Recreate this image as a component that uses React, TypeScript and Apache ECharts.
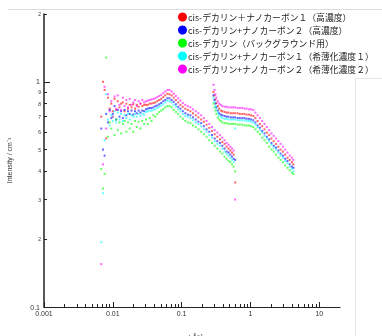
import React, { useEffect, useRef } from "react";
import * as echarts from "echarts";

// Scattering vector q (Å^-1), SAXS range and WAXS range
const qSaxs = [0.0068, 0.0072, 0.0076, 0.008, 0.0085, 0.009, 0.0095, 0.01, 0.0106, 0.0112, 0.0118, 0.0125, 0.0132, 0.014, 0.0148, 0.0157, 0.0166, 0.0176, 0.0187, 0.0198, 0.021, 0.0223, 0.0237, 0.0252, 0.0268, 0.0285, 0.0303, 0.0322, 0.0343, 0.0365, 0.039, 0.0415, 0.0443, 0.0473, 0.0505, 0.054, 0.0578, 0.062, 0.0665, 0.0714, 0.0767, 0.0825, 0.089, 0.096, 0.104, 0.113, 0.123, 0.134, 0.146, 0.16, 0.175, 0.192, 0.21, 0.23, 0.252, 0.276, 0.302, 0.33, 0.36, 0.39, 0.42, 0.45, 0.48, 0.51, 0.54, 0.57, 0.6];
const qWaxs = [0.29, 0.3, 0.31, 0.32, 0.335, 0.35, 0.37, 0.39, 0.42, 0.45, 0.48, 0.52, 0.56, 0.6, 0.65, 0.7, 0.76, 0.82, 0.88, 0.95, 1.02, 1.1, 1.18, 1.27, 1.37, 1.48, 1.6, 1.73, 1.87, 2.02, 2.18, 2.35, 2.54, 2.74, 2.96, 3.2, 3.45, 3.72, 4.0, 4.2];

// Intensities (cm^-1)
const redSaxs = [0.70, 1.0, 0.92, 0.56, 0.85, 0.76, 0.80, 0.74, 0.84, 0.75, 0.82, 0.77, 0.80, 0.81, 0.74, 0.80, 0.76, 0.79, 0.77, 0.795, 0.76, 0.79, 0.775, 0.80, 0.78, 0.79,
  0.79, 0.79, 0.80, 0.80, 0.805, 0.81, 0.82, 0.83, 0.84, 0.855, 0.87, 0.885, 0.88, 0.87, 0.85, 0.83, 0.81, 0.79, 0.775, 0.76, 0.75, 0.74, 0.725, 0.71, 0.695, 0.68, 0.665, 0.645, 0.625, 0.605, 0.585, 0.57, 0.555, 0.54, 0.53, 0.515, 0.505, 0.495, 0.485, 0.475, 0.357];
const redWaxs = [0.90, 0.87, 0.835, 0.805, 0.78, 0.76, 0.745, 0.74, 0.735, 0.73, 0.73, 0.725, 0.725, 0.725, 0.725, 0.72, 0.72, 0.72, 0.715, 0.715, 0.71, 0.705, 0.69, 0.67, 0.65, 0.635, 0.615, 0.595, 0.58, 0.56, 0.545, 0.53, 0.515, 0.50, 0.49, 0.475, 0.46, 0.45, 0.44, 0.43];

const blueSaxs = [0.62, 0.50, 0.47, 0.72, 0.66, 0.75, 0.69, 0.72, 0.78, 0.68, 0.75, 0.70, 0.74, 0.69, 0.75, 0.71, 0.74, 0.72, 0.745, 0.715, 0.74, 0.725, 0.745, 0.73, 0.745, 0.74,
  0.755, 0.76, 0.765, 0.765, 0.77, 0.78, 0.785, 0.795, 0.805, 0.82, 0.83, 0.845, 0.845, 0.83, 0.815, 0.795, 0.775, 0.76, 0.74, 0.725, 0.715, 0.71, 0.695, 0.68, 0.665, 0.655, 0.635, 0.615, 0.60, 0.58, 0.56, 0.545, 0.535, 0.52, 0.505, 0.49, 0.485, 0.475, 0.465, 0.455, 0.45];
const blueWaxs = [0.87, 0.83, 0.80, 0.77, 0.745, 0.725, 0.715, 0.71, 0.705, 0.70, 0.70, 0.695, 0.695, 0.695, 0.69, 0.69, 0.69, 0.69, 0.685, 0.685, 0.68, 0.675, 0.66, 0.64, 0.625, 0.605, 0.59, 0.57, 0.555, 0.535, 0.52, 0.51, 0.495, 0.48, 0.47, 0.455, 0.445, 0.43, 0.42, 0.415];

const greenSaxs = [0.41, 0.336, 0.39, 1.28, 0.57, 0.66, 0.62, 0.70, 0.58, 0.68, 0.61, 0.66, 0.59, 0.65, 0.67, 0.60, 0.66, 0.62, 0.65, 0.60, 0.67, 0.63, 0.665, 0.62, 0.67, 0.65,
  0.68, 0.65, 0.69, 0.67, 0.71, 0.70, 0.72, 0.735, 0.745, 0.755, 0.77, 0.78, 0.78, 0.77, 0.75, 0.735, 0.72, 0.70, 0.685, 0.67, 0.66, 0.655, 0.64, 0.63, 0.615, 0.60, 0.585, 0.57, 0.55, 0.535, 0.52, 0.505, 0.49, 0.48, 0.465, 0.455, 0.445, 0.44, 0.43, 0.42, 0.40];
const greenWaxs = [0.80, 0.77, 0.745, 0.72, 0.695, 0.68, 0.67, 0.66, 0.655, 0.655, 0.65, 0.65, 0.65, 0.65, 0.645, 0.645, 0.645, 0.64, 0.64, 0.64, 0.635, 0.63, 0.615, 0.60, 0.585, 0.565, 0.55, 0.535, 0.515, 0.50, 0.49, 0.475, 0.46, 0.45, 0.44, 0.425, 0.415, 0.405, 0.395, 0.39];

const cyanSaxs = [0.194, 0.32, 0.55, 0.88, 0.68, 0.64, 0.71, 0.67, 0.74, 0.66, 0.73, 0.68, 0.72, 0.67, 0.71, 0.69, 0.72, 0.68, 0.71, 0.70, 0.72, 0.70, 0.72, 0.705, 0.72, 0.715,
  0.735, 0.74, 0.745, 0.745, 0.75, 0.755, 0.765, 0.775, 0.785, 0.795, 0.81, 0.825, 0.82, 0.81, 0.79, 0.775, 0.755, 0.74, 0.72, 0.705, 0.70, 0.69, 0.675, 0.66, 0.65, 0.635, 0.615, 0.60, 0.58, 0.565, 0.545, 0.53, 0.52, 0.505, 0.49, 0.48, 0.47, 0.46, 0.45, 0.44, 0.62];
const cyanWaxs = [0.85, 0.815, 0.78, 0.755, 0.73, 0.71, 0.70, 0.69, 0.685, 0.685, 0.68, 0.68, 0.68, 0.68, 0.675, 0.675, 0.675, 0.675, 0.67, 0.67, 0.665, 0.66, 0.645, 0.63, 0.61, 0.595, 0.575, 0.56, 0.545, 0.525, 0.51, 0.50, 0.485, 0.47, 0.46, 0.445, 0.435, 0.42, 0.41, 0.40];

const magentaSaxs = [0.155, 0.43, 0.95, 0.62, 0.88, 0.74, 0.82, 0.70, 0.86, 0.76, 0.87, 0.79, 0.75, 0.85, 0.78, 0.83, 0.77, 0.84, 0.79, 0.81, 0.83, 0.78, 0.82, 0.80, 0.83, 0.81,
  0.82, 0.825, 0.83, 0.835, 0.84, 0.845, 0.855, 0.865, 0.875, 0.89, 0.905, 0.92, 0.92, 0.905, 0.885, 0.865, 0.845, 0.825, 0.805, 0.79, 0.78, 0.77, 0.755, 0.74, 0.725, 0.71, 0.69, 0.67, 0.65, 0.63, 0.61, 0.595, 0.58, 0.565, 0.55, 0.535, 0.525, 0.515, 0.505, 0.495, 0.30];
const magentaWaxs = [0.97, 0.92, 0.88, 0.85, 0.82, 0.80, 0.79, 0.78, 0.775, 0.775, 0.77, 0.77, 0.77, 0.77, 0.765, 0.765, 0.765, 0.76, 0.76, 0.755, 0.755, 0.75, 0.73, 0.71, 0.69, 0.67, 0.65, 0.63, 0.61, 0.59, 0.575, 0.56, 0.545, 0.53, 0.515, 0.50, 0.485, 0.47, 0.46, 0.45];

const seriesNames = [
  "cis-デカリン＋ナノカーボン１（高濃度）",
  "cis-デカリン+ナノカーボン２（高濃度）",
  "cis-デカリン（バックグラウンド用）",
  "cis-デカリン+ナノカーボン１（希薄化濃度１）",
  "cis-デカリン+ナノカーボン２（希薄化濃度２）",
];
const seriesColors = ["#ff0000", "#0000ff", "#00ff00", "#00ffff", "#ff00ff"];
const seriesSaxs = [redSaxs, blueSaxs, greenSaxs, cyanSaxs, magentaSaxs];
const seriesWaxs = [redWaxs, blueWaxs, greenWaxs, cyanWaxs, magentaWaxs];

const xMajorTicks = [0.001, 0.01, 0.1, 1, 10];
const xMinorTicks = [0.002, 0.003, 0.004, 0.005, 0.006, 0.007, 0.008, 0.009, 0.02, 0.03, 0.04, 0.05, 0.06, 0.07, 0.08, 0.09, 0.2, 0.3, 0.4, 0.5, 0.6, 0.7, 0.8, 0.9, 2, 3, 4, 5, 6, 7, 8, 9];
const yMajorTicks = [0.1, 1];
const yMinorTicks = [0.2, 0.3, 0.4, 0.5, 0.6, 0.7, 0.8, 0.9, 2];
const yMinorLabels = ["2", "3", "4", "5", "6", "7", "8", "9", "2"];

const axisColor = "#222";
const labelFont = "Liberation Sans";

export default function App() {
  const ref = useRef<HTMLDivElement>(null);
  useEffect(() => {
    if (!ref.current) return;
    const chart = echarts.init(ref.current, null, { renderer: "svg" });
    const series = seriesNames.map((name, k) => ({
      name,
      type: "scatter",
      xAxisIndex: 0,
      yAxisIndex: 0,
      symbol: "rect",
      symbolSize: 2,
      silent: true,
      itemStyle: { color: seriesColors[k], opacity: 0.6 },
      data: [
        ...qSaxs.map((q, i) => [q, seriesSaxs[k][i]]),
        ...qWaxs.map((q, i) => [q, seriesWaxs[k][i]]),
      ],
    }));
    chart.setOption({
      animation: false,
      textStyle: { fontFamily: labelFont },
      grid: { left: 44, right: 42, top: 14, bottom: 29, containLabel: false, outerBoundsMode: "none" },
      legend: {
        orient: "vertical",
        left: 178,
        top: 10.5,
        padding: 0,
        itemWidth: 9,
        itemHeight: 9,
        itemGap: 0,
        icon: "circle",
        textStyle: { fontFamily: "Noto Sans CJK JP", fontSize: 8.8, color: "#222", lineHeight: 13, padding: [0, 0, 0, -4] },
        data: seriesNames.map((name, k) => ({ name, itemStyle: { color: seriesColors[k], opacity: 1 } })),
      },
      xAxis: [
        {
          type: "log",
          logBase: 10,
          min: 0.001,
          max: 20,
          position: "bottom",
          axisLine: { show: true, lineStyle: { color: axisColor, width: 1.2 } },
          axisTick: { show: true, inside: true, length: 5, customValues: xMajorTicks, lineStyle: { color: axisColor } },
          axisLabel: { customValues: xMajorTicks, formatter: (v: number) => String(v), fontSize: 7, color: "#333", margin: 3, fontFamily: labelFont },
          splitLine: { show: false },
          name: "q / Å⁻¹",
          nameLocation: "middle",
          nameGap: 26,
          nameTextStyle: { fontSize: 8, color: "#333", fontFamily: labelFont },
        },
        {
          type: "log",
          logBase: 10,
          min: 0.001,
          max: 20,
          position: "bottom",
          axisLine: { show: false },
          axisTick: { show: true, inside: true, length: 3, customValues: xMinorTicks, lineStyle: { color: axisColor } },
          axisLabel: { show: false },
          splitLine: { show: false },
        },
      ],
      yAxis: [
        {
          type: "log",
          logBase: 10,
          min: 0.1,
          max: 2,
          position: "left",
          axisLine: { show: true, lineStyle: { color: axisColor, width: 1.5 } },
          axisTick: { show: true, inside: true, length: 6, customValues: yMajorTicks, lineStyle: { color: axisColor } },
          axisLabel: { customValues: yMajorTicks, formatter: (v: number) => String(v), fontSize: 7, color: "#333", margin: 4, fontFamily: labelFont },
          splitLine: { show: false },
          name: "Intensity / cm⁻¹",
          nameLocation: "middle",
          nameGap: 31,
          nameRotate: 90,
          nameTextStyle: { fontSize: 7, color: "#333", fontFamily: labelFont },
        },
        {
          type: "log",
          logBase: 10,
          min: 0.1,
          max: 2,
          position: "left",
          axisLine: { show: false },
          axisTick: { show: true, inside: true, length: 3, customValues: yMinorTicks, lineStyle: { color: axisColor } },
          axisLabel: {
            customValues: yMinorTicks,
            formatter: (v: number) => {
              const idx = yMinorTicks.findIndex((t) => Math.abs(t - v) < 1e-9);
              return idx >= 0 ? yMinorLabels[idx] : "";
            },
            fontSize: 5,
            color: "#333",
            margin: 3,
            fontFamily: labelFont,
          },
          splitLine: { show: false },
        },
      ],
      graphic: [
        { type: "line", shape: { x1: 8, y1: 9.5, x2: 382, y2: 9.5 }, style: { stroke: "#dcdcdc", lineWidth: 1 }, silent: true },
        { type: "line", shape: { x1: 355.5, y1: 78, x2: 355.5, y2: 336 }, style: { stroke: "#e6e6e6", lineWidth: 1 }, silent: true },
        { type: "line", shape: { x1: 355, y1: 78.5, x2: 382, y2: 78.5 }, style: { stroke: "#e6e6e6", lineWidth: 1 }, silent: true },
      ],
      series,
    });
    return () => chart.dispose();
  }, []);
  return <div ref={ref} style={{ position: "fixed", left: 0, top: 0, width: 382, height: 336 }} />;
}
